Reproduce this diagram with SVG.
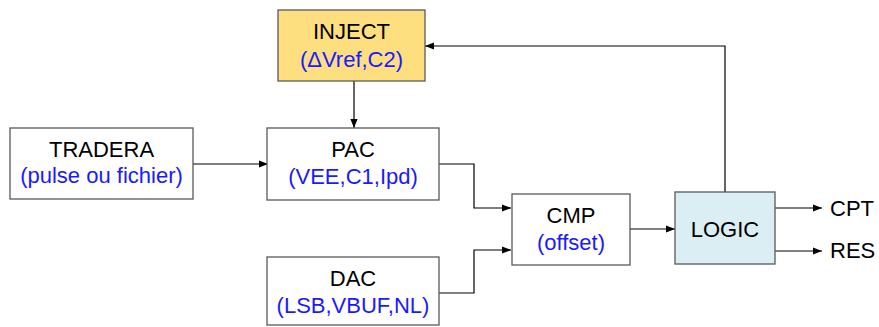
<svg xmlns="http://www.w3.org/2000/svg" width="879" height="327" viewBox="0 0 879 327">
<style>
.box{fill:#fff;stroke:#595959;stroke-width:1.3}
.t{font-family:"Liberation Sans",Arial,sans-serif;font-size:22px;text-anchor:middle;fill:#000}
.b{fill:#1a1aff}
.c{fill:none;stroke:#000;stroke-width:1.2}
.l{font-family:"Liberation Sans",Arial,sans-serif;font-size:22px;fill:#000}
</style>
<defs>
<marker id="a" viewBox="0 0 10 10" refX="10" refY="5" markerWidth="9" markerHeight="9" markerUnits="userSpaceOnUse" orient="auto">
<path d="M0,1 L10,5 L0,9 z" fill="#000"/>
</marker>
</defs>
<g id="connectors">
<path class="c" d="M354,81 V128" marker-end="url(#a)"/>
<path class="c" d="M193,164 H268" marker-end="url(#a)"/>
<path class="c" d="M439,164 H474 V208 H511" marker-end="url(#a)"/>
<path class="c" d="M439,293 H474 V250 H511" marker-end="url(#a)"/>
<path class="c" d="M630,229 H675" marker-end="url(#a)"/>
<path class="c" d="M725,192 V46 H425" marker-end="url(#a)"/>
<path class="c" d="M775,208 H822" marker-end="url(#a)"/>
<path class="c" d="M775,251 H822" marker-end="url(#a)"/>
</g>
<g id="inject">
<rect class="box" x="278" y="10" width="147" height="71" style="fill:#fedf80"/>
<text class="t" x="351.5" y="39">INJECT</text>
<text class="t b" x="351.5" y="67">(ΔVref,C2)</text>
</g>
<g id="tradera">
<rect class="box" x="10" y="128" width="183" height="71"/>
<text class="t" x="101.5" y="157">TRADERA</text>
<text class="t b" x="101.5" y="183">(pulse ou fichier)</text>
</g>
<g id="pac">
<rect class="box" x="267" y="128" width="172" height="72"/>
<text class="t" x="353" y="157">PAC</text>
<text class="t b" x="353" y="184">(VEE,C1,Ipd)</text>
</g>
<g id="dac">
<rect class="box" x="267" y="257" width="172" height="68"/>
<text class="t" x="353" y="286">DAC</text>
<text class="t b" x="353" y="313">(LSB,VBUF,NL)</text>
</g>
<g id="cmp">
<rect class="box" x="512" y="194" width="118" height="71"/>
<text class="t" x="571" y="223">CMP</text>
<text class="t b" x="571" y="250">(offset)</text>
</g>
<g id="logic">
<rect class="box" x="675" y="192" width="100" height="72" style="fill:#dbeef3"/>
<text class="t" x="725" y="237">LOGIC</text>
</g>
<g id="outputs">
<text class="l" x="830" y="216">CPT</text>
<text class="l" x="830" y="258">RES</text>
</g>
</svg>
